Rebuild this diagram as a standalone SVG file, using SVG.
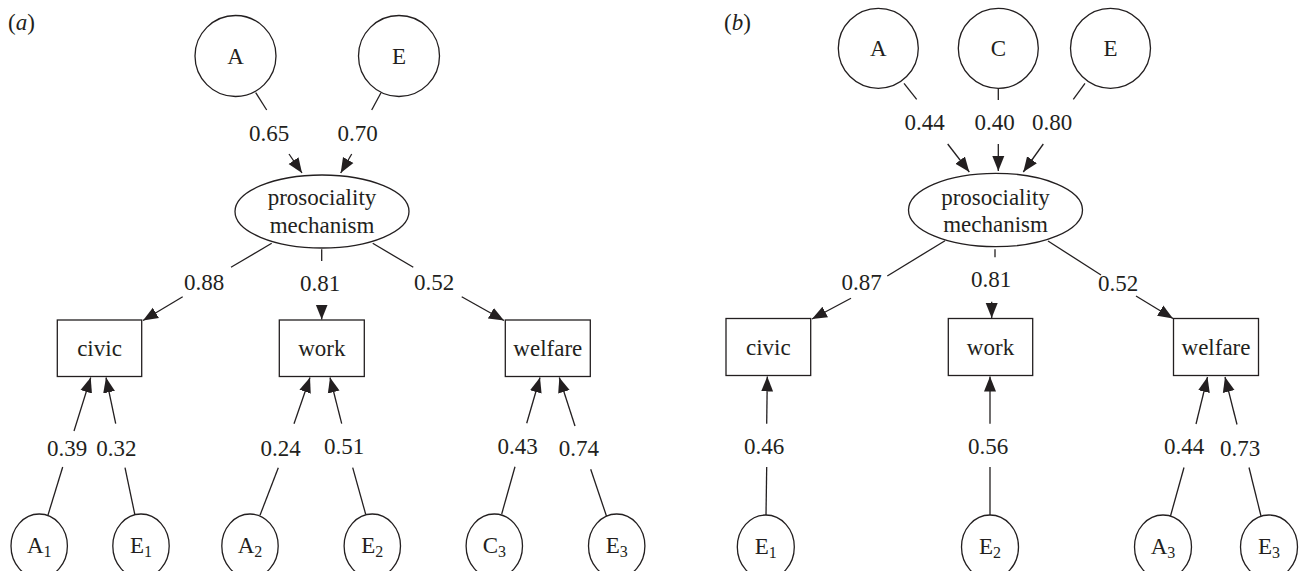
<svg xmlns="http://www.w3.org/2000/svg" width="1300" height="571" viewBox="0 0 1300 571">
<defs>
<marker id="ah" markerUnits="userSpaceOnUse" markerWidth="16" markerHeight="14" viewBox="0 0 16 14" refX="15" refY="7" orient="auto">
<path d="M0,1 L15,7 L0,13 Z" fill="#231f20"/>
</marker>
</defs>
<style>
text{font-family:"Liberation Serif","Times New Roman",serif;font-size:23px;fill:#231f20;text-anchor:middle}
.n{fill:#fff;stroke:#231f20;stroke-width:1.3}
.c line{stroke:#231f20;stroke-width:1.3}
.c .a{marker-end:url(#ah)}
.sub{font-size:16px}
.pl{text-anchor:start}
</style>
<rect width="1300" height="571" fill="#fff"/>
<text class="pl" x="8" y="30">(<tspan font-style="italic">a</tspan>)</text>
<text class="pl" x="724" y="30">(<tspan font-style="italic">b</tspan>)</text>

<g id="connectors" class="c">
<!-- panel a -->
<line x1="255.7" y1="92.7" x2="266.7" y2="110"/>
<line class="a" x1="289" y1="154" x2="302" y2="173"/>
<line x1="381" y1="92.7" x2="371.7" y2="110"/>
<line class="a" x1="351.7" y1="154" x2="340.7" y2="173"/>
<line x1="271.7" y1="243.3" x2="231" y2="267.3"/>
<line class="a" x1="182.7" y1="296.7" x2="143" y2="320.5"/>
<line x1="321.7" y1="249.3" x2="321.7" y2="261"/>
<line class="a" x1="321.7" y1="306" x2="321.7" y2="319.5"/>
<line x1="372.7" y1="243.3" x2="413.3" y2="267.3"/>
<line class="a" x1="461.7" y1="296.7" x2="504" y2="320.5"/>
<line x1="47.7" y1="516" x2="62.7" y2="467"/>
<line class="a" x1="74" y1="431" x2="90.7" y2="377.5"/>
<line x1="135" y1="515.3" x2="125" y2="467.7"/>
<line class="a" x1="115.7" y1="423.7" x2="106" y2="377.5"/>
<line x1="260" y1="515.3" x2="278.3" y2="467.7"/>
<line class="a" x1="294" y1="423.7" x2="310" y2="377.5"/>
<line x1="365.7" y1="514.3" x2="352.7" y2="467.7"/>
<line class="a" x1="341.7" y1="423.7" x2="330" y2="377.5"/>
<line x1="501.7" y1="514" x2="515" y2="466.7"/>
<line class="a" x1="526.7" y1="423.3" x2="540" y2="377.5"/>
<line x1="606.7" y1="516.7" x2="590.7" y2="469.3"/>
<line class="a" x1="575" y1="426" x2="559.3" y2="377.5"/>
<!-- panel b -->
<line x1="904" y1="83.3" x2="916.7" y2="99.3"/>
<line class="a" x1="947.7" y1="144" x2="969.3" y2="172"/>
<line x1="998.3" y1="88.3" x2="998.3" y2="100"/>
<line class="a" x1="998.3" y1="144" x2="998.3" y2="171"/>
<line x1="1085" y1="83.3" x2="1073.3" y2="99.3"/>
<line class="a" x1="1043.3" y1="144" x2="1023.3" y2="172"/>
<line x1="945" y1="240.7" x2="887.3" y2="276"/>
<line class="a" x1="851" y1="298.3" x2="812" y2="319"/>
<line x1="995" y1="249.3" x2="995" y2="257.3"/>
<line class="a" x1="991.7" y1="301.7" x2="991.7" y2="318"/>
<line x1="1048" y1="241" x2="1101" y2="275"/>
<line class="a" x1="1136" y1="296" x2="1173" y2="318.5"/>
<line x1="766" y1="516" x2="766.7" y2="467"/>
<line class="a" x1="766.7" y1="423.7" x2="767.3" y2="376.5"/>
<line x1="990" y1="516" x2="990" y2="467"/>
<line class="a" x1="990" y1="423.7" x2="990" y2="376.5"/>
<line x1="1170.5" y1="516" x2="1184" y2="467.5"/>
<line class="a" x1="1196" y1="424" x2="1207.5" y2="377"/>
<line x1="1261" y1="516" x2="1249" y2="467.5"/>
<line class="a" x1="1237" y1="424.5" x2="1225" y2="377"/>
</g>

<g id="labels">
<text x="269" y="141">0.65</text>
<text x="357.5" y="141">0.70</text>
<text x="204" y="290">0.88</text>
<text x="320" y="291">0.81</text>
<text x="434" y="290">0.52</text>
<text x="67.2" y="456">0.39</text>
<text x="116.3" y="456">0.32</text>
<text x="280.5" y="456">0.24</text>
<text x="344" y="454">0.51</text>
<text x="517.7" y="454.3">0.43</text>
<text x="578.8" y="456">0.74</text>
<text x="924.5" y="130">0.44</text>
<text x="994.5" y="130">0.40</text>
<text x="1052" y="130">0.80</text>
<text x="861.7" y="290">0.87</text>
<text x="991" y="287.3">0.81</text>
<text x="1118" y="291">0.52</text>
<text x="764" y="453.7">0.46</text>
<text x="988" y="453.7">0.56</text>
<text x="1184" y="454">0.44</text>
<text x="1240" y="456">0.73</text>
</g>

<!-- panel a nodes -->
<g id="a_A"><circle class="n" cx="235.5" cy="56" r="40.5"/><text x="235.5" y="64">A</text></g>
<g id="a_E"><circle class="n" cx="399" cy="56" r="40.5"/><text x="399" y="64">E</text></g>
<g id="a_pro"><ellipse class="n" cx="322" cy="211.5" rx="87" ry="36.5"/><text x="322" y="205">prosociality</text><text x="322" y="232.7">mechanism</text></g>
<g id="a_civic"><rect class="n" x="57.3" y="320" width="84.4" height="56.5"/><text x="99.5" y="356">civic</text></g>
<g id="a_work"><rect class="n" x="279.3" y="320" width="85" height="56.5"/><text x="321.8" y="356">work</text></g>
<g id="a_welfare"><rect class="n" x="505.3" y="320" width="85" height="56.5"/><text x="547.8" y="356">welfare</text></g>
<g id="a_A1"><ellipse class="n" cx="39.2" cy="546" rx="28.2" ry="32"/><text x="39.2" y="553">A<tspan class="sub" dy="4">1</tspan></text></g>
<g id="a_E1"><ellipse class="n" cx="141" cy="546" rx="28.2" ry="32"/><text x="141" y="553">E<tspan class="sub" dy="4">1</tspan></text></g>
<g id="a_A2"><ellipse class="n" cx="250" cy="546" rx="28.2" ry="32"/><text x="250" y="553">A<tspan class="sub" dy="4">2</tspan></text></g>
<g id="a_E2"><ellipse class="n" cx="372.3" cy="546" rx="28.2" ry="32"/><text x="372.3" y="553">E<tspan class="sub" dy="4">2</tspan></text></g>
<g id="a_C3"><ellipse class="n" cx="494.3" cy="546" rx="28.2" ry="32"/><text x="494.3" y="553">C<tspan class="sub" dy="4">3</tspan></text></g>
<g id="a_E3"><ellipse class="n" cx="616.7" cy="546" rx="28.2" ry="32"/><text x="616.7" y="553">E<tspan class="sub" dy="4">3</tspan></text></g>

<!-- panel b nodes -->
<g id="b_A"><circle class="n" cx="878.3" cy="48.3" r="40"/><text x="878.3" y="56.3">A</text></g>
<g id="b_C"><circle class="n" cx="998.3" cy="48.3" r="40"/><text x="998.3" y="56.3">C</text></g>
<g id="b_E"><circle class="n" cx="1110.5" cy="48.3" r="40"/><text x="1110.5" y="56.3">E</text></g>
<g id="b_pro"><ellipse class="n" cx="995.5" cy="210" rx="87" ry="36.7"/><text x="995.5" y="205">prosociality</text><text x="995.5" y="231.7">mechanism</text></g>
<g id="b_civic"><rect class="n" x="726" y="318.5" width="84.7" height="57"/><text x="768.3" y="354.5">civic</text></g>
<g id="b_work"><rect class="n" x="948.3" y="318.5" width="84.4" height="57"/><text x="990.5" y="354.5">work</text></g>
<g id="b_welfare"><rect class="n" x="1173.5" y="318.5" width="85" height="57"/><text x="1216" y="354.5">welfare</text></g>
<g id="b_E1"><ellipse class="n" cx="765.8" cy="547" rx="28.5" ry="32"/><text x="765.8" y="554">E<tspan class="sub" dy="4">1</tspan></text></g>
<g id="b_E2"><ellipse class="n" cx="990" cy="547" rx="28.5" ry="32"/><text x="990" y="554">E<tspan class="sub" dy="4">2</tspan></text></g>
<g id="b_A3"><ellipse class="n" cx="1163" cy="547" rx="28.5" ry="32"/><text x="1163" y="554">A<tspan class="sub" dy="4">3</tspan></text></g>
<g id="b_E3"><ellipse class="n" cx="1269" cy="547" rx="28.5" ry="32"/><text x="1269" y="554">E<tspan class="sub" dy="4">3</tspan></text></g>
</svg>
